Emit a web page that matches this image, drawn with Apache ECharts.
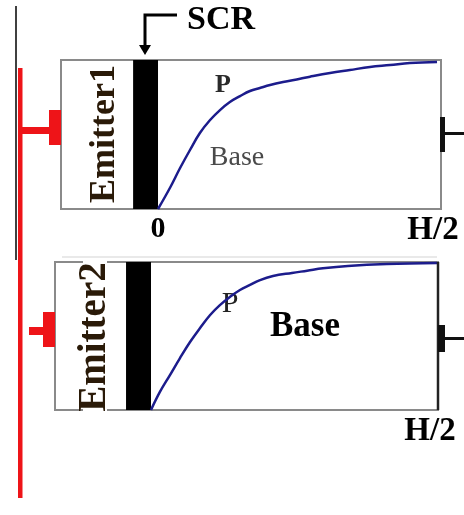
<!DOCTYPE html>
<html><head><meta charset="utf-8">
<script src="https://cdn.jsdelivr.net/npm/echarts@6/dist/echarts.min.js"></script>
<style>html,body{margin:0;padding:0;background:#fff}#c{width:464px;height:515px}</style>
</head><body><div id="c"></div>
<script>
// Position along the base as a fraction of H/2, and normalised profile value
const topX = [0, 0.042, 0.078, 0.113, 0.148, 0.184, 0.219, 0.254, 0.290, 0.325, 0.360, 0.396, 0.442, 0.502, 0.537, 0.608, 0.678, 0.749, 0.820, 0.890, 0.986];
const topY = [0, 0.141, 0.275, 0.396, 0.510, 0.597, 0.664, 0.718, 0.758, 0.792, 0.812, 0.832, 0.852, 0.874, 0.888, 0.913, 0.933, 0.953, 0.966, 0.980, 0.987];
const bottomX = [0, 0.031, 0.066, 0.101, 0.136, 0.171, 0.206, 0.240, 0.275, 0.310, 0.345, 0.380, 0.425, 0.491, 0.544, 0.599, 0.686, 0.822, 0.997];
const bottomY = [0, 0.122, 0.236, 0.351, 0.459, 0.554, 0.642, 0.709, 0.764, 0.811, 0.845, 0.878, 0.905, 0.926, 0.941, 0.957, 0.973, 0.986, 0.993];
// Space-charge region extent (same units)
const scrTop = [-0.088, 0];
const scrBottom = [-0.087, 0];
// Axis ranges (left edge of emitter box)
const xRangeTop = [-0.3428, 1];
const xRangeBottom = [-0.3345, 1];
// Tick labels
const tickValues = [0, 1];
const tickLabelsTop = ['0', 'H/2'];
const tickLabelsBottom = ['', 'H/2'];

const SERIF = "'Liberation Serif','DejaVu Serif',serif";
const RED = '#ee1418';
const CURVE = '#1c1c8c';

const chart = echarts.init(document.getElementById('c'), null, {renderer: 'canvas'});

function xAxisFor(idx, range, labels) {
  return {
    type: 'value', gridIndex: idx, min: range[0], max: range[1],
    axisLine: {show: false}, axisTick: {show: false}, splitLine: {show: false},
    axisLabel: {
      customValues: tickValues,
      margin: 5,
      formatter: v => {
        const i = tickValues.indexOf(v);
        const t = i >= 0 ? labels[i] : '';
        if (!t) return '';
        return v === 1 ? '{h|' + t + '}' : '{z|' + t + '}';
      },
      rich: {
        z: {fontFamily: SERIF, fontWeight: 'bold', fontSize: 30, color: '#000'},
        h: {fontFamily: SERIF, fontWeight: 'bold', fontSize: 33, color: '#000', padding: [0, 16, 0, 0]}
      }
    }
  };
}

const txt = (x, y, text, size, opts) => Object.assign({
  type: 'text', x: x, y: y, z: 20,
  style: {text: text, font: (opts && opts.weight || 'bold') + ' ' + size + 'px ' + SERIF,
    fill: (opts && opts.color) || '#000', align: 'center', verticalAlign: 'middle'}
}, opts && opts.extra || {});

const option = {
  animation: false,
  backgroundColor: '#fff',
  grid: [
    {left: 61, top: 60, width: 380, height: 149, show: true, borderColor: '#8a8a8a', borderWidth: 2, backgroundColor: 'transparent', containLabel: false, outerBoundsMode: 'none'},
    {left: 55, top: 262, width: 383, height: 148, show: true, borderColor: '#8a8a8a', borderWidth: 2, backgroundColor: 'transparent', containLabel: false, outerBoundsMode: 'none'}
  ],
  xAxis: [xAxisFor(0, xRangeTop, tickLabelsTop), xAxisFor(1, xRangeBottom, tickLabelsBottom)],
  yAxis: [
    {type: 'value', gridIndex: 0, min: 0, max: 1, show: false},
    {type: 'value', gridIndex: 1, min: 0, max: 1, show: false}
  ],
  series: [
    {
      type: 'line', xAxisIndex: 0, yAxisIndex: 0, z: 5,
      data: topX.map((x, i) => [x, topY[i]]),
      symbol: 'none', smooth: 0.4, lineStyle: {color: CURVE, width: 2.5},
      markArea: {silent: true, itemStyle: {color: '#000', opacity: 1},
        data: [[{xAxis: scrTop[0], yAxis: 0}, {xAxis: scrTop[1], yAxis: 1}]]}
    },
    {
      type: 'line', xAxisIndex: 1, yAxisIndex: 1, z: 5,
      data: bottomX.map((x, i) => [x, bottomY[i]]),
      symbol: 'none', smooth: 0.4, lineStyle: {color: CURVE, width: 2.5},
      markArea: {silent: true, itemStyle: {color: '#000', opacity: 1},
        data: [[{xAxis: scrBottom[0], yAxis: 0}, {xAxis: scrBottom[1], yAxis: 1}]]}
    }
  ],
  graphic: [
    {type: 'line', z: 10, shape: {x1: 16, y1: 6, x2: 16, y2: 260}, style: {stroke: '#000', lineWidth: 1.5}},
    {type: 'line', z: 1, shape: {x1: 62, y1: 257, x2: 437, y2: 257}, style: {stroke: '#e2e2e2', lineWidth: 1.5}},
    {type: 'rect', z: 10, shape: {x: 18, y: 68, width: 4.5, height: 430}, style: {fill: RED}},
    {type: 'rect', z: 10, shape: {x: 20, y: 127, width: 30, height: 7}, style: {fill: RED}},
    {type: 'rect', z: 10, shape: {x: 49, y: 110, width: 12, height: 35}, style: {fill: RED}},
    {type: 'rect', z: 10, shape: {x: 29, y: 327, width: 16, height: 8}, style: {fill: RED}},
    {type: 'rect', z: 10, shape: {x: 43, y: 312, width: 12, height: 35}, style: {fill: RED}},
    {type: 'rect', z: 10, shape: {x: 440, y: 117, width: 5, height: 35}, style: {fill: '#111'}},
    {type: 'rect', z: 10, shape: {x: 444, y: 132, width: 20, height: 3}, style: {fill: '#111'}},
    {type: 'line', z: 10, shape: {x1: 438, y1: 262, x2: 438, y2: 410}, style: {stroke: '#222', lineWidth: 2.5}},
    {type: 'rect', z: 10, shape: {x: 438, y: 325, width: 7, height: 27}, style: {fill: '#111'}},
    {type: 'rect', z: 10, shape: {x: 445, y: 337, width: 19, height: 3}, style: {fill: '#111'}},
    {type: 'polyline', z: 10, shape: {points: [[177, 15], [145, 15], [145, 46]]}, style: {stroke: '#000', lineWidth: 3, fill: null}},
    {type: 'polygon', z: 10, shape: {points: [[139, 45], [151, 45], [145, 55]]}, style: {fill: '#000'}},
    {type: 'rect', z: 15, shape: {x: 83, y: 258, width: 24, height: 156}, style: {fill: '#fff'}},
    txt(221, 20, 'SCR', 34),
    txt(223, 85, 'P', 26, {color: '#2a2a2a'}),
    txt(237, 158, 'Base', 28, {weight: 'normal', color: '#4a4a4a'}),
    Object.assign(txt(230, 304, 'P', 30, {weight: 'normal', color: '#222'}), {z: 1}),
    txt(305, 327, 'Base', 35),
    Object.assign(txt(105, 134, 'Emitter1', 36, {color: '#2a1a08'}), {rotation: Math.PI / 2}),
    Object.assign(txt(95, 337, 'Emitter2', 39, {color: '#2a1a08'}), {rotation: Math.PI / 2})
  ]
};
chart.setOption(option);
</script>
</body></html>
